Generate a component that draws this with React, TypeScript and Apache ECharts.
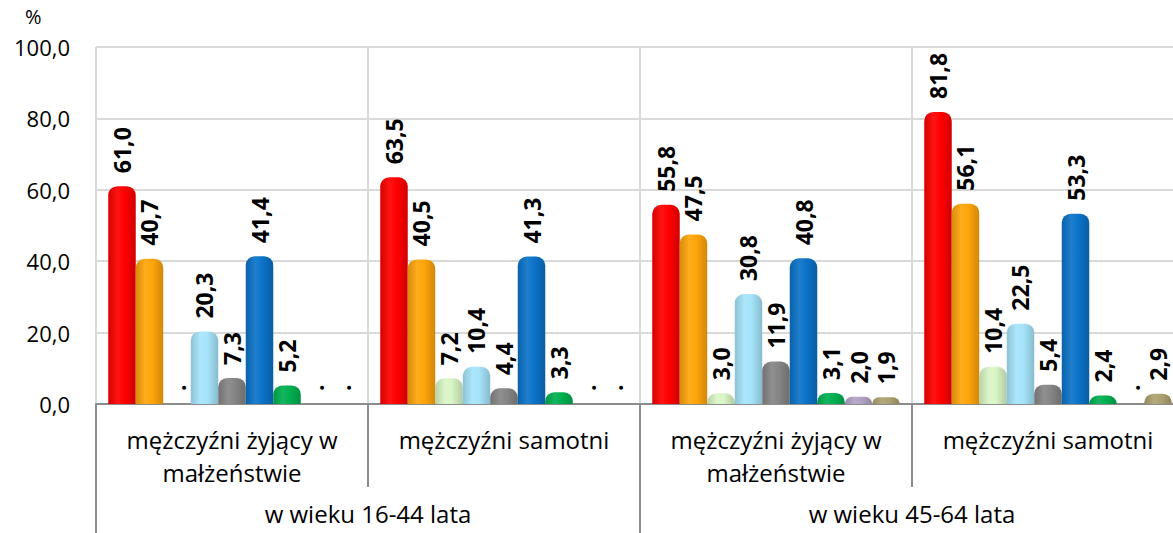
import React, { useEffect, useRef } from "react";
import * as echarts from "echarts";

const categories = [
  "mężczyźni żyjący w\nmałżeństwie",
  "mężczyźni samotni",
  "mężczyźni żyjący w\nmałżeństwie",
  "mężczyźni samotni",
];
const ageGroups = ["w wieku 16-44 lata", "w wieku 45-64 lata"];

const seriesNames = [
  "Seria 1", "Seria 2", "Seria 3", "Seria 4", "Seria 5",
  "Seria 6", "Seria 7", "Seria 8", "Seria 9",
];
const seriesColors = [
  "#FF0000", "#FFA50A", "#D9F5C5", "#A6E4FA", "#858585",
  "#0A73C8", "#00B050", "#B3A2C7", "#ADA270",
];

// values per category (null = "." no data)
const group1 = [61.0, 40.7, null, 20.3, 7.3, 41.4, 5.2, null, null];
const group2 = [63.5, 40.5, 7.2, 10.4, 4.4, 41.3, 3.3, null, null];
const group3 = [55.8, 47.5, 3.0, 30.8, 11.9, 40.8, 3.1, 2.0, 1.9];
const group4 = [81.8, 56.1, 10.4, 22.5, 5.4, 53.3, 2.4, null, 2.9];
const groups = [group1, group2, group3, group4];

const yTicks = { min: 0, max: 100, interval: 20 };

function shade(hex: string, f: number): string {
  const n = parseInt(hex.slice(1), 16);
  let r = (n >> 16) & 255, g = (n >> 8) & 255, b = n & 255;
  const adj = (c: number) =>
    f < 1 ? Math.round(c * f) : Math.round(c + (255 - c) * (f - 1));
  r = adj(r); g = adj(g); b = adj(b);
  return "#" + ((1 << 24) | (r << 16) | (g << 8) | b).toString(16).slice(1);
}

const fmt = (v: number) => v.toFixed(1).replace(".", ",");
const FONT = "'Open Sans', sans-serif";

export default function App() {
  const ref = useRef<HTMLDivElement>(null);
  useEffect(() => {
    if (!ref.current) return;
    const chart = echarts.init(ref.current, null, { renderer: "svg" });
    const series = seriesNames.map((name, i) => ({
      name,
      type: "bar",
      xAxisIndex: 0,
      barGap: "0%",
      barCategoryGap: "9%",
      itemStyle: {
        borderRadius: [9, 9, 0, 0],
        color: new echarts.graphic.LinearGradient(0, 0, 1, 0, [
          { offset: 0, color: shade(seriesColors[i], 0.85) },
          { offset: 0.35, color: shade(seriesColors[i], 1.08) },
          { offset: 0.6, color: seriesColors[i] },
          { offset: 1, color: shade(seriesColors[i], 0.82) },
        ]),
      },
      label: {
        show: true,
        position: "top",
        rotate: 90,
        align: "left",
        verticalAlign: "middle",
        distance: 13,
        fontFamily: FONT,
        fontWeight: "bold",
        fontSize: 23,
        color: "#000",
        formatter: (p: any) => (p.data && p.data.missing ? "." : fmt(p.value)),
      },
      data: groups.map((g) =>
        g[i] === null ? { value: 0, missing: true } : { value: g[i] }
      ),
    }));

    chart.setOption({
      animation: false,
      grid: { left: 96, top: 47, right: 16, bottom: 129 },
      xAxis: [
        {
          type: "category",
          data: categories,
          position: "bottom",
          axisLine: { show: true, lineStyle: { color: "#8c8c8c", width: 2 } },
          axisTick: { show: true, length: 83, lineStyle: { color: "#8c8c8c", width: 2 } },
          splitLine: { show: true, lineStyle: { color: "#d9d9d9", width: 2 } },
          axisLabel: {
            interval: 0,
            margin: 19,
            fontFamily: FONT,
            fontSize: 24,
            lineHeight: 33,
            color: "#000",
          },
        },
        {
          type: "category",
          data: ageGroups,
          position: "bottom",
          offset: 0,
          axisLine: { show: false },
          axisTick: { show: true, length: 129, lineStyle: { color: "#8c8c8c", width: 2 } },
          splitLine: { show: false },
          axisLabel: {
            interval: 0,
            margin: 93,
            fontFamily: FONT,
            fontSize: 24,
            lineHeight: 33,
            color: "#000",
          },
        },
      ],
      yAxis: {
        type: "value",
        min: yTicks.min,
        max: yTicks.max,
        interval: yTicks.interval,
        axisLine: { show: false },
        axisTick: { show: false },
        splitLine: { show: true, lineStyle: { color: "#d9d9d9", width: 2 } },
        axisLabel: {
          margin: 26,
          fontFamily: FONT,
          fontSize: 22,
          color: "#000",
          formatter: (v: number) => fmt(v),
        },
      },
      graphic: [
        {
          type: "text",
          left: 25,
          top: 6,
          style: { text: "%", fontFamily: FONT, fontSize: 20, fill: "#000" },
        },
      ],
      series,
    });
    return () => chart.dispose();
  }, []);

  return (
    <div
      style={{
        position: "fixed",
        left: 0,
        top: 0,
        width: 1173,
        height: 533,
        overflow: "hidden",
        background: "#fff",
      }}
    >
      <div ref={ref} style={{ width: 1200, height: 533 }} />
    </div>
  );
}
